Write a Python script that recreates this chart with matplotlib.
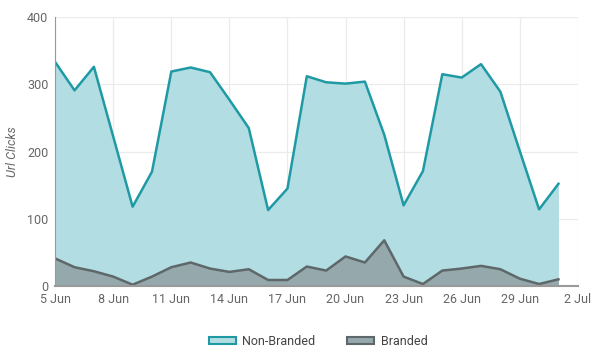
import matplotlib.pyplot as plt
import matplotlib.dates as mdates
from matplotlib.patches import Patch
import pandas as pd

plt.rcParams['font.family'] = ['Roboto', 'DejaVu Sans']

# 数据：每日点击量
dates = pd.date_range(start="2025-06-05", end="2025-07-01")
non_branded = [333, 291, 326, 222, 118, 170, 319, 325, 318, 277, 235, 113, 145, 312,
               303, 301, 304, 225, 120, 171, 315, 310, 330, 289, 201, 114, 152]
branded = [41, 28, 22, 14, 2, 14, 28, 35, 26, 21, 25, 9, 9, 29,
           23, 44, 35, 68, 14, 3, 23, 26, 30, 25, 11, 3, 10]

teal_line = '#1f9aa5'
teal_fill = '#b2dde2'
gray_line = '#5e6769'
gray_fill = '#95a9ac'
text_col = '#666666'

fig = plt.figure(figsize=(6, 3.63), dpi=100)
ax = fig.add_axes([0.092, 0.212, 0.871, 0.741])

# 面积图
ax.fill_between(dates, non_branded, color=teal_fill, lw=0)
ax.plot(dates, non_branded, color=teal_line, lw=1.8)
ax.fill_between(dates, branded, color=gray_fill, lw=0)
ax.plot(dates, branded, color=gray_line, lw=1.8)

ax.set_xlim(pd.Timestamp("2025-06-05"), pd.Timestamp("2025-07-02"))
ax.set_ylim(0, 400)
ax.set_yticks([0, 100, 200, 300, 400])
ax.set_xticks(pd.date_range(start="2025-06-05", end="2025-07-02", freq='3D'))
ax.xaxis.set_major_formatter(mdates.DateFormatter('%-d %b'))

ax.set_ylabel('Url Clicks', fontsize=9, color=text_col, style='italic', labelpad=6)
ax.tick_params(axis='both', labelsize=9, colors=text_col, length=0, pad=5)

# 美化
ax.grid(color='#ebebeb', lw=0.9)
ax.set_axisbelow(True)
for s in ['top', 'right']:
    ax.spines[s].set_visible(False)
ax.spines['left'].set_color('#999999')
ax.spines['bottom'].set_color('#999999')
ax.spines['bottom'].set_linewidth(1.5)

handles = [Patch(facecolor=teal_fill, edgecolor=teal_line, lw=1.5, label='Non-Branded'),
           Patch(facecolor=gray_fill, edgecolor=gray_line, lw=1.5, label='Branded')]
leg = fig.legend(handles=handles, loc='center', bbox_to_anchor=(0.53, 0.06), ncol=2,
                 frameon=False, fontsize=9, handlelength=2.2, handleheight=0.5,
                 columnspacing=2.5, handletextpad=0.5)
for t in leg.get_texts():
    t.set_color('#444444')

plt.savefig("out.png", dpi=100)
